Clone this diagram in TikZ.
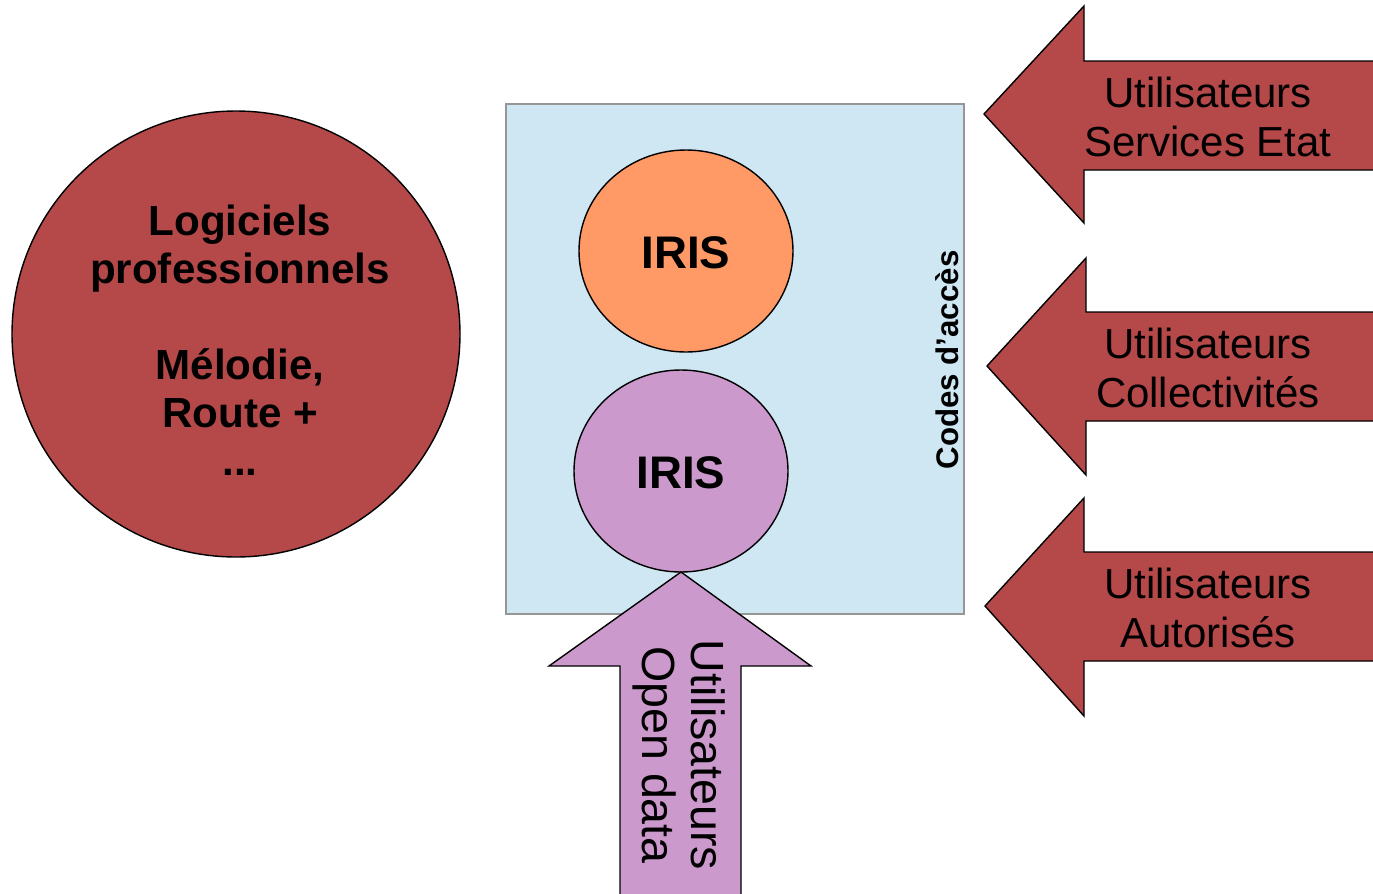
\documentclass[tikz,border=0pt]{standalone}
\usepackage{fontspec}
\setmainfont{Liberation Sans}
\definecolor{logred}{RGB}{181,72,73}
\definecolor{boxblue}{RGB}{207,230,243}
\definecolor{irisorange}{RGB}{255,153,102}
\definecolor{irispurple}{RGB}{204,153,204}
\definecolor{boxgray}{RGB}{150,150,150}
\begin{document}
\begin{tikzpicture}[x=0.02cm,y=-0.02cm,
  redshape/.style={fill=logred,draw=black,line width=0.8pt,line join=miter},
  arrowtext/.style={align=center,inner sep=0pt,font=\fontsize{23.9}{27.9}\selectfont},
  boldtext/.style={align=center,inner sep=0pt,font=\fontsize{24}{27.3}\selectfont\bfseries},
  iristext/.style={inner sep=0pt,font=\fontsize{26}{30}\selectfont\bfseries},
  irisshape/.style={draw=black,line width=0.8pt}
]
\useasboundingbox (0,0) rectangle (1373,893);
\fill[white] (0,0) rectangle (1373,893);

% big circle
\draw[redshape] (236,334) ellipse [x radius=224, y radius=223];
\node[boldtext] (logiciels) at (240,340) {Logiciels\\professionnels\\[27.3pt]Mélodie,\\Route +\\...};

% blue box
\draw[fill=boxblue,draw=boxgray,line width=0.8pt] (506,104) rectangle (964,614);
\node[rotate=90,inner sep=0pt,font=\fontsize{17.8}{20}\selectfont\bfseries] (codes) at (947,360) {Codes d’accès};

% IRIS ellipses
\draw[irisshape,fill=irisorange] (686,251) ellipse [x radius=107, y radius=101];
\node[iristext] (iris1) at (686,253) {IRIS};
\draw[irisshape,fill=irispurple] (681,471) ellipse [x radius=107, y radius=101];
\node[iristext] (iris2) at (681,473) {IRIS};

% bottom arrow (up)
\filldraw[fill=irispurple,draw=black,line width=0.8pt,line join=miter]
  (620,895) -- (620,666) -- (549,666) -- (681,572) -- (811,666) -- (741,666) -- (741,895);
\node[rotate=-90,align=center,inner sep=0pt,font=\fontsize{26.5}{27.5}\selectfont] (opendata) at (679,755) {Utilisateurs\\Open data};

% right arrows (left-pointing)
\filldraw[redshape] (1375,61) -- (1084,61) -- (1084,6) -- (984,114) -- (1084,223) -- (1084,170) -- (1375,170);
\node[arrowtext] (etat) at (1208,117) {Utilisateurs\\Services Etat};

\filldraw[redshape] (1375,312) -- (1086,312) -- (1086,258) -- (987,366) -- (1086,475) -- (1086,421) -- (1375,421);
\node[arrowtext] (collec) at (1208,368) {Utilisateurs\\Collectivités};

\filldraw[redshape] (1375,552) -- (1084,552) -- (1084,498) -- (985,606) -- (1084,716) -- (1084,661) -- (1375,661);
\node[arrowtext] (autor) at (1208,608) {Utilisateurs\\Autorisés};
\end{tikzpicture}
\end{document}
